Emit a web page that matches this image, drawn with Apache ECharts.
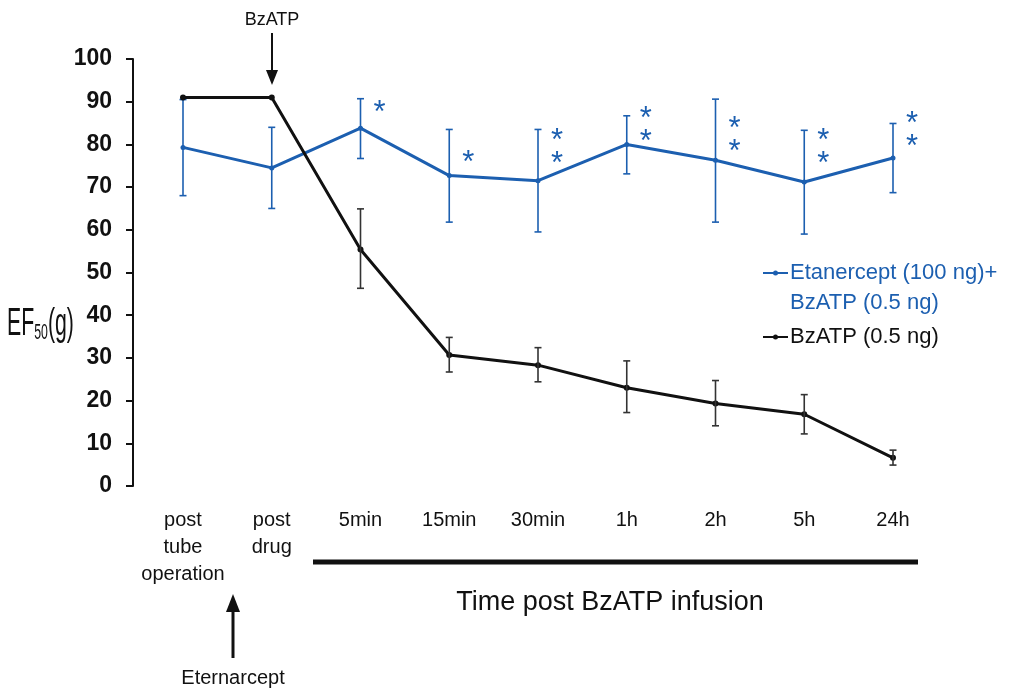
<!DOCTYPE html>
<html>
<head>
<meta charset="utf-8">
<script src="https://cdn.jsdelivr.net/npm/echarts@6/dist/echarts.min.js"></script>
<style>
  html, body { margin: 0; padding: 0; background: #fff; }
  #main { width: 1032px; height: 694px; }
</style>
</head>
<body>
<div id="main"></div>
<script>
// categories and values
var categories = ['post\ntube\noperation', 'post\ndrug', '5min', '15min', '30min', '1h', '2h', '5h', '24h'];
var etanMean = [79.3, 74.5, 83.8, 72.7, 71.5, 80.0, 76.3, 71.2, 76.8];
var etanLow  = [68.0, 65.0, 76.7, 61.8, 59.5, 73.1, 61.8, 59.0, 68.7];
var etanHigh = [90.5, 84.0, 90.7, 83.5, 83.5, 86.7, 90.6, 83.3, 84.9];
var bzMean = [91.0, 91.0, 55.4, 30.7, 28.3, 23.0, 19.3, 16.8, 6.6];
var bzLow  = [null, null, 46.3, 26.7, 24.4, 17.2, 14.1, 12.2, 4.9];
var bzHigh = [null, null, 64.9, 34.8, 32.4, 29.3, 24.7, 21.4, 8.4];
// significance marks (centre of the mark, in y units)
var starText = ['', '', '*', '*', '*\n*', '*\n*', '*\n*', '*\n*', '*\n*'];
var starY    = [null, null, 88.8, 77.1, 79.6, 84.8, 82.5, 79.7, 83.7];
var yTicks = { min: 0, max: 100, interval: 10 };

var BLUE = '#1c5fb0';
var BLACK = '#111111';
var FONT = 'Liberation Sans, Arial, sans-serif';

var chart = echarts.init(document.getElementById('main'));

function errorBars(low, high, color, z) {
    var data = [];
    low.forEach(function (v, i) {
        if (v != null) data.push([i, v, high[i]]);
    });
    return {
        type: 'custom',
        z: z,
        silent: true,
        data: data,
        encode: { x: 0, y: [1, 2] },
        renderItem: function (params, api) {
            var lo = api.coord([api.value(0), api.value(1)]);
            var hi = api.coord([api.value(0), api.value(2)]);
            var w = 3.5;
            var st = { stroke: color, lineWidth: 1.6 };
            return {
                type: 'group',
                children: [
                    { type: 'line', shape: { x1: lo[0], y1: lo[1], x2: hi[0], y2: hi[1] }, style: st },
                    { type: 'line', shape: { x1: lo[0] - w, y1: lo[1], x2: lo[0] + w, y2: lo[1] }, style: st },
                    { type: 'line', shape: { x1: hi[0] - w, y1: hi[1], x2: hi[0] + w, y2: hi[1] }, style: st }
                ]
            };
        }
    };
}

var starData = [];
starY.forEach(function (v, i) {
    if (v != null) starData.push([i, v]);
});

var option = {
    backgroundColor: '#ffffff',
    animation: false,
    grid: { left: 183, right: 139, top: 59, bottom: 208, containLabel: false },
    xAxis: {
        type: 'category',
        data: categories,
        boundaryGap: false,
        axisLine: { show: false },
        axisTick: { show: false },
        axisLabel: {
            interval: 0,
            margin: 21,
            color: '#111',
            fontFamily: FONT,
            fontSize: 20,
            lineHeight: 27
        }
    },
    yAxis: {
        type: 'value',
        min: yTicks.min,
        max: yTicks.max,
        interval: yTicks.interval,
        offset: 50,
        splitLine: { show: false },
        axisLine: { show: true, lineStyle: { color: '#111', width: 2 } },
        axisTick: { show: true, length: 7, lineStyle: { color: '#111', width: 2 } },
        axisLabel: {
            margin: 21,
            color: '#111',
            fontFamily: FONT,
            fontWeight: 'bold',
            fontSize: 23
        }
    },
    series: [
        errorBars(etanLow, etanHigh, BLUE, 2),
        {
            type: 'line',
            name: 'Etanercept (100 ng)+BzATP (0.5 ng)',
            data: etanMean,
            z: 3,
            symbol: 'circle',
            symbolSize: 5,
            itemStyle: { color: BLUE },
            lineStyle: { color: BLUE, width: 3 }
        },
        {
            type: 'line',
            name: 'BzATP (0.5 ng)',
            data: bzMean,
            z: 4,
            symbol: 'circle',
            symbolSize: 6,
            itemStyle: { color: BLACK },
            lineStyle: { color: BLACK, width: 3 }
        },
        errorBars(bzLow, bzHigh, '#333', 5),
        {
            type: 'custom',
            z: 6,
            silent: true,
            data: starData,
            encode: { x: 0, y: 1 },
            renderItem: function (params, api) {
                var p = api.coord([api.value(0), api.value(1)]);
                return {
                    type: 'text',
                    x: p[0] + 19,
                    y: p[1] + 7,
                    style: {
                        text: starText[api.value(0)],
                        fill: BLUE,
                        font: '31px ' + FONT,
                        align: 'center',
                        verticalAlign: 'middle',
                        lineHeight: 23
                    }
                };
            }
        }
    ],
    graphic: [
        // y axis title, condensed like the original
        {
            type: 'text', x: 7, y: 325, scaleX: 0.56,
            style: {
                text: '{a|EF}{b|50}{a|(g)}',
                verticalAlign: 'middle',
                rich: {
                    a: { fontSize: 38, fontFamily: FONT, fill: '#111' },
                    b: { fontSize: 22, fontFamily: FONT, fill: '#111', padding: [15, 0, 0, 0] }
                }
            }
        },
        // BzATP arrow at top
        { type: 'text', x: 272, y: 20, style: { text: 'BzATP', font: '18px ' + FONT, fill: '#111', align: 'center', verticalAlign: 'middle' } },
        { type: 'line', shape: { x1: 272, y1: 33, x2: 272, y2: 72 }, style: { stroke: '#111', lineWidth: 2 } },
        { type: 'polygon', shape: { points: [[266, 70], [278, 70], [272, 85]] }, style: { fill: '#111' } },
        // Eternarcept arrow at bottom
        { type: 'line', shape: { x1: 233, y1: 608, x2: 233, y2: 658 }, style: { stroke: '#111', lineWidth: 3 } },
        { type: 'polygon', shape: { points: [[226, 612], [240, 612], [233, 594]] }, style: { fill: '#111' } },
        { type: 'text', x: 233, y: 678, style: { text: 'Eternarcept', font: '20px ' + FONT, fill: '#111', align: 'center', verticalAlign: 'middle' } },
        // bar under time labels and axis caption
        { type: 'line', shape: { x1: 313, y1: 562, x2: 918, y2: 562 }, style: { stroke: '#111', lineWidth: 5 } },
        { type: 'text', x: 610, y: 603, style: { text: 'Time post BzATP infusion', font: '27px ' + FONT, fill: '#111', align: 'center', verticalAlign: 'middle' } },
        // legend
        { type: 'line', shape: { x1: 763, y1: 273, x2: 788, y2: 273 }, style: { stroke: BLUE, lineWidth: 2 } },
        { type: 'circle', shape: { cx: 775.5, cy: 273, r: 2.5 }, style: { fill: BLUE } },
        { type: 'text', x: 790, y: 273, style: { text: 'Etanercept (100 ng)+', font: '22px ' + FONT, fill: BLUE, verticalAlign: 'middle' } },
        { type: 'text', x: 790, y: 303, style: { text: 'BzATP (0.5 ng)', font: '22px ' + FONT, fill: BLUE, verticalAlign: 'middle' } },
        { type: 'line', shape: { x1: 763, y1: 337, x2: 788, y2: 337 }, style: { stroke: BLACK, lineWidth: 2 } },
        { type: 'circle', shape: { cx: 775.5, cy: 337, r: 2.5 }, style: { fill: BLACK } },
        { type: 'text', x: 790, y: 337, style: { text: 'BzATP (0.5 ng)', font: '22px ' + FONT, fill: BLACK, verticalAlign: 'middle' } }
    ]
};

chart.setOption(option);
</script>
</body>
</html>
